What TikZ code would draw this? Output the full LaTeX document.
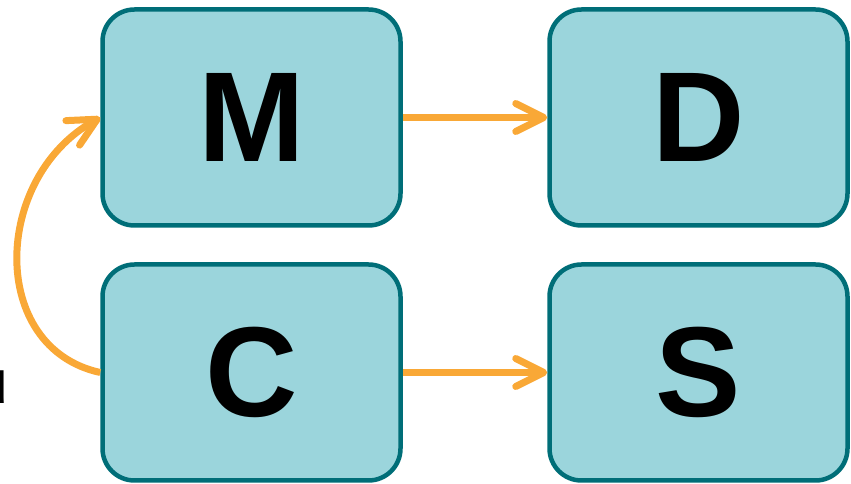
\documentclass[tikz,border=0pt]{standalone}
\usepackage{fontspec}
\setmainfont{Liberation Sans}
\usetikzlibrary{arrows.meta}
\definecolor{boxfill}{HTML}{9BD5DC}
\definecolor{boxline}{HTML}{006E78}
\definecolor{arr}{HTML}{F9A836}
\begin{document}
\begin{tikzpicture}[x=1pt,y=1pt,
  blk/.style={draw=boxline, fill=boxfill, line width=4.5pt, rounded corners=32pt,
    minimum width=298pt, minimum height=216pt, inner sep=0pt,
    font=\fontsize{128}{128}\selectfont\bfseries},
  flow/.style={draw=arr, line width=7pt,
    -{Straight Barb[length=28pt,width=28pt,round,line width=7pt]}}]
\useasboundingbox (0,0) rectangle (851,484);
\node[blk] (M) at (251.5,366.5) {M};
\node[blk] (D) at (698.5,366.5) {D};
\node[blk] (C) at (251.5,111.5) {C};
\node[blk] (S) at (698.5,111.5) {S};
\node[anchor=east, inner sep=0pt, font=\fontsize{62}{62}\selectfont\bfseries] (L) at (9,97) {u};
\draw[flow] (M.east) -- (D.west);
\draw[flow] (C.east) -- (S.west);
\draw[flow] (C.west) .. controls (-12,136) and (-8,306) .. (M.west);
\end{tikzpicture}
\end{document}
